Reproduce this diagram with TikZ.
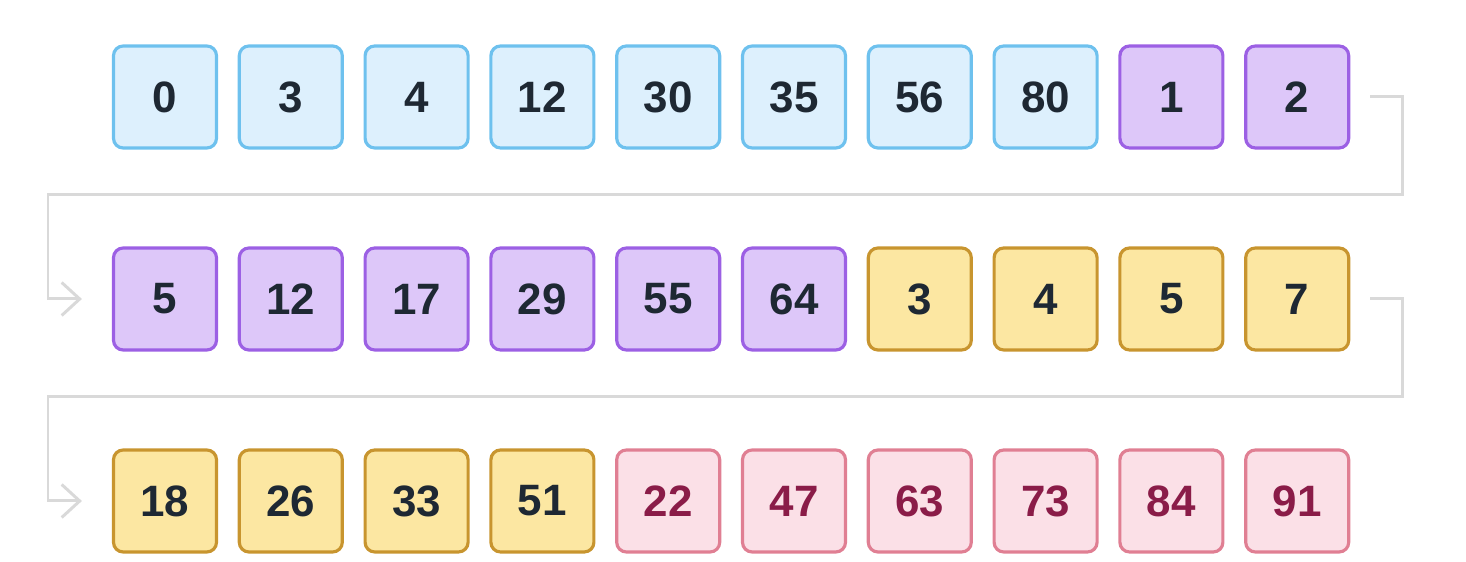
\documentclass[tikz,border=0pt]{standalone}
\usepackage{fontspec}
\setmainfont{Liberation Sans}
\usetikzlibrary{arrows.meta}

\definecolor{blueFill}{HTML}{DDF0FD}
\definecolor{blueLine}{HTML}{6EC1EE}
\definecolor{purpleFill}{HTML}{DDC7F9}
\definecolor{purpleLine}{HTML}{9C60E4}
\definecolor{yellowFill}{HTML}{FCE7A2}
\definecolor{yellowLine}{HTML}{C8952F}
\definecolor{pinkFill}{HTML}{FBE0E7}
\definecolor{pinkLine}{HTML}{E07F93}
\definecolor{pinkText}{HTML}{8A1C48}
\definecolor{darkText}{HTML}{1E2833}
\definecolor{linkGray}{HTML}{D9D9D9}

\begin{document}
\begin{tikzpicture}[
    cell/.style={rectangle, rounded corners=5.5pt, line width=1.8pt,
        minimum width=2.06cm, minimum height=2.04cm, inner sep=0pt,
        font=\fontsize{25}{30}\selectfont\bfseries, text=darkText},
    bluecell/.style={cell, draw=blueLine, fill=blueFill},
    purplecell/.style={cell, draw=purpleLine, fill=purpleFill},
    yellowcell/.style={cell, draw=yellowLine, fill=yellowFill},
    pinkcell/.style={cell, draw=pinkLine, fill=pinkFill, text=pinkText},
    link/.style={draw=linkGray, line width=1.7pt,
        -{Straight Barb[length=0.36cm, width=0.66cm, line width=1.7pt]}},
]
\useasboundingbox (0,0) rectangle (29.32,11.24);

% Row 1
\foreach \v/\s [count=\i] in {0/bluecell, 3/bluecell, 4/bluecell, 12/bluecell,
    30/bluecell, 35/bluecell, 56/bluecell, 80/bluecell, 1/purplecell, 2/purplecell}
    \node[\s] (a\i) at ({3.3+2.516*(\i-1)}, 9.3) {\v};

% Row 2
\foreach \v/\s [count=\i] in {5/purplecell, 12/purplecell, 17/purplecell, 29/purplecell,
    55/purplecell, 64/purplecell, 3/yellowcell, 4/yellowcell, 5/yellowcell, 7/yellowcell}
    \node[\s] (b\i) at ({3.3+2.516*(\i-1)}, 5.26) {\v};

% Row 3
\foreach \v/\s [count=\i] in {18/yellowcell, 26/yellowcell, 33/yellowcell, 51/yellowcell,
    22/pinkcell, 47/pinkcell, 63/pinkcell, 73/pinkcell, 84/pinkcell, 91/pinkcell}
    \node[\s] (c\i) at ({3.3+2.516*(\i-1)}, 1.22) {\v};

% Wrap-around links
\coordinate (turn1) at (0.96,7.34);
\coordinate (turn2) at (0.96,3.3);
\draw[link] ([xshift=4mm]a10.east) -- ++(0.64,0) |- (turn1) |- ([xshift=-6mm]b1.west);
\draw[link] ([xshift=4mm]b10.east) -- ++(0.64,0) |- (turn2) |- ([xshift=-6mm]c1.west);

\end{tikzpicture}
\end{document}
